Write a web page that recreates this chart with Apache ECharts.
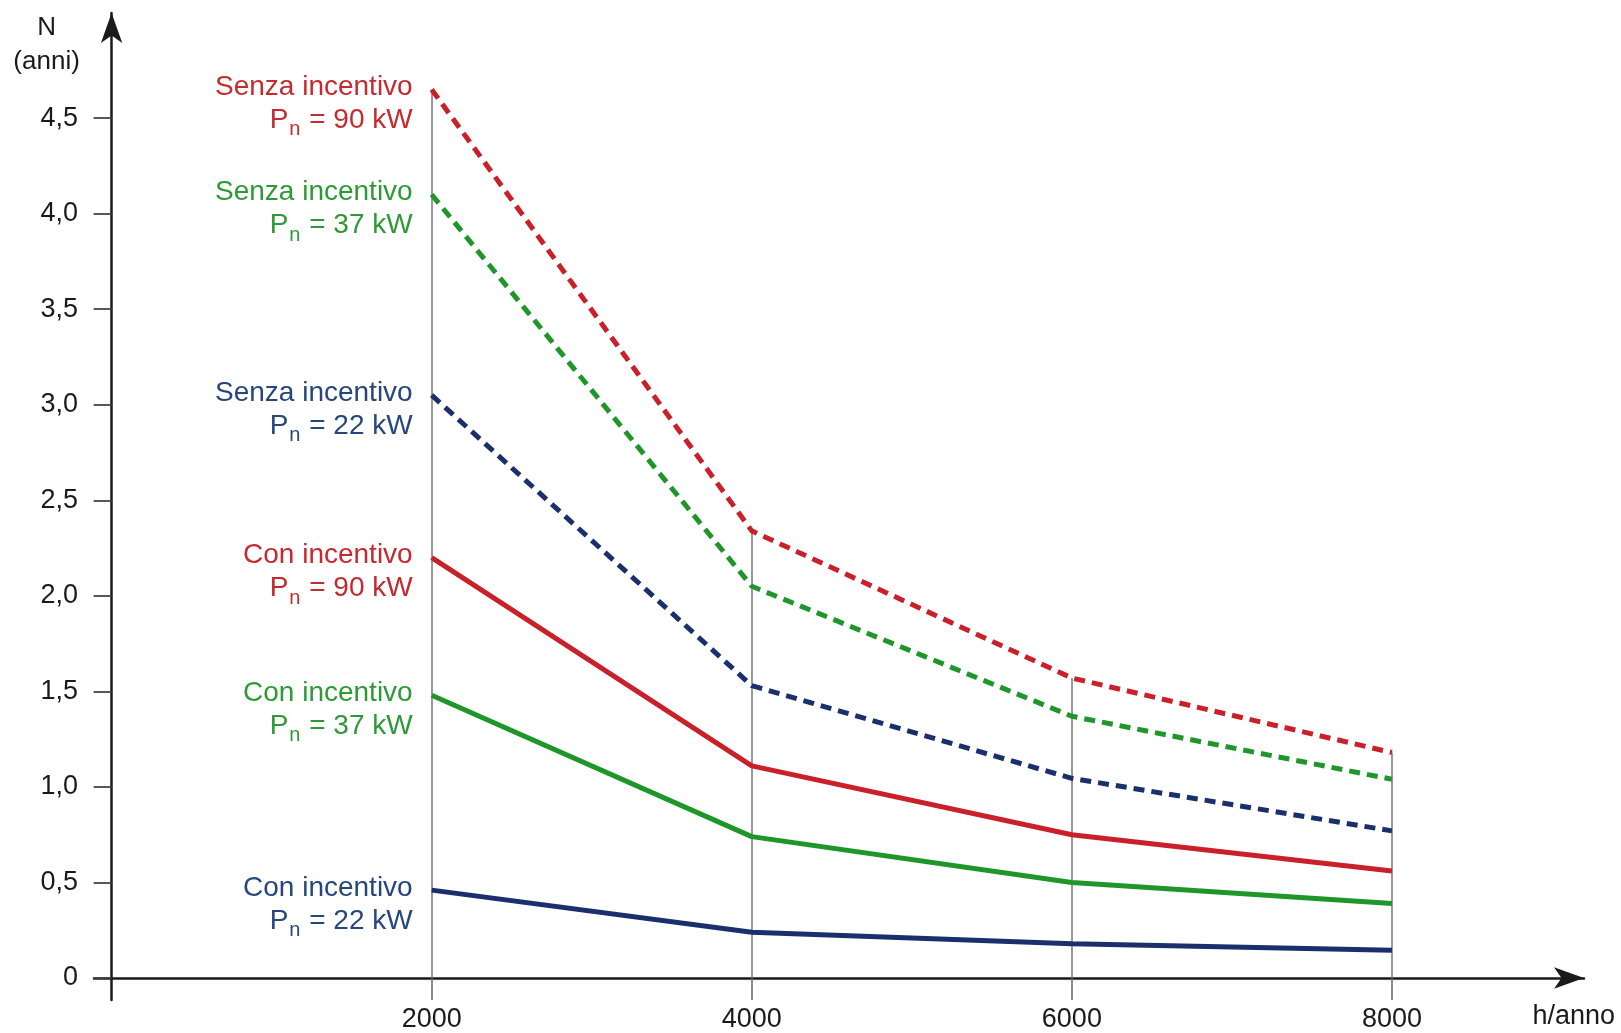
<!DOCTYPE html>
<html><head><meta charset="utf-8">
<script src="https://cdn.jsdelivr.net/npm/echarts@6/dist/echarts.min.js"></script>
<style>html,body{margin:0;padding:0;background:#fff}#c{width:1621px;height:1033px}</style>
</head><body><div id="c"></div>
<script>
// ---- data ----
const hours = [2000, 4000, 6000, 8000];
const senza90 = [4.65, 2.34, 1.57, 1.18];
const senza37 = [4.10, 2.05, 1.37, 1.04];
const senza22 = [3.05, 1.53, 1.045, 0.77];
const con90 = [2.20, 1.11, 0.75, 0.56];
const con37 = [1.48, 0.74, 0.50, 0.39];
const con22 = [0.46, 0.24, 0.18, 0.145];
const yTicks = [0, 0.5, 1, 1.5, 2, 2.5, 3, 3.5, 4, 4.5];
const xTicks = [2000, 4000, 6000, 8000];
const labelTitles = ['Senza incentivo', 'Senza incentivo', 'Senza incentivo', 'Con incentivo', 'Con incentivo', 'Con incentivo'];
const powers = ['90', '37', '22', '90', '37', '22'];

// ---- styles ----
const RED = '#c9202a', GREEN = '#1f962a', BLUE = '#1b2f6c';
const RED_T = '#c42a2e', GREEN_T = '#2e9a36', BLUE_T = '#26467c';
const FONT = 'Liberation Sans, Arial, sans-serif';

const allSeries = [senza90, senza37, senza22, con90, con37, con22];
const colors = [RED, GREEN, BLUE, RED, GREEN, BLUE];
const textColors = [RED_T, GREEN_T, BLUE_T, RED_T, GREEN_T, BLUE_T];
const dashed = [true, true, true, false, false, false];

const series = allSeries.map((arr, k) => ({
  type: 'line',
  name: labelTitles[k] + ' ' + powers[k],
  showSymbol: true,
  symbol: 'circle',
  symbolSize: 0,
  z: 5,
  itemStyle: {color: colors[k]},
  lineStyle: {color: colors[k], width: 5, type: dashed[k] ? [11, 7] : 'solid', cap: 'butt'},
  label: {show: false},
  data: hours.map((h, i) => i === 0 ? {
    value: [h, arr[i]],
    label: {
      show: true, position: 'left', distance: 19, offset: [0, 14.5], align: 'right',
      formatter: '{t|' + labelTitles[k] + '}\n{p|P}{s|n}{p| = ' + powers[k] + ' kW}',
      rich: {
        t: {fontSize: 28, lineHeight: 33, color: textColors[k], fontFamily: FONT},
        p: {fontSize: 28, lineHeight: 33, color: textColors[k], fontFamily: FONT},
        s: {fontSize: 20, lineHeight: 12, padding: [19, 1, 0, 1], color: textColors[k], fontFamily: FONT}
      }
    }
  } : {value: [h, arr[i]]})
}));

// drop lines from axis up to highest curve at each hour
series.push({
  type: 'line', data: [], silent: true, z: 2,
  markLine: {
    silent: true, symbol: 'none', label: {show: false},
    lineStyle: {color: '#777', width: 1.5, type: 'solid'},
    data: hours.map((h, i) => [{coord: [h, 0]}, {coord: [h, Math.max(...allSeries.map(a => a[i]))]}])
  }
});

const chart = echarts.init(document.getElementById('c'));
chart.setOption({
  backgroundColor: '#ffffff',
  animation: false,
  grid: {left: 94, right: 37, top: 13, bottom: 33, outerBoundsMode: 'none', containLabel: false},
  xAxis: {
    type: 'value', min: -110, max: 9200,
    name: 'h/anno', nameLocation: 'end', nameGap: 31,
    nameTextStyle: {fontSize: 27, color: '#1a1a1a', fontFamily: FONT, align: 'right', verticalAlign: 'top', padding: [25, 0, 0, 0]},
    axisLine: {onZero: true, lineStyle: {color: '#1a1a1a', width: 2.5}, symbol: ['none', 'arrow'], symbolSize: [16, 30]},
    axisTick: {show: true, inside: false, length: 22, customValues: xTicks, lineStyle: {color: '#666', width: 1.5}},
    axisLabel: {customValues: xTicks, fontSize: 27, color: '#1a1a1a', fontFamily: FONT, margin: 6, formatter: v => String(v)},
    splitLine: {show: false}
  },
  yAxis: {
    type: 'value', min: -0.115, max: 5.05,
    name: 'N\n(anni)', nameLocation: 'end', nameGap: 2,
    nameTextStyle: {fontSize: 26, lineHeight: 34, color: '#1a1a1a', fontFamily: FONT, align: 'center', verticalAlign: 'top', padding: [0, 130, 0, 0]},
    axisLine: {onZero: true, lineStyle: {color: '#1a1a1a', width: 2.5}, symbol: ['none', 'arrow'], symbolSize: [16, 30]},
    axisTick: {show: true, inside: false, length: 18, customValues: yTicks, lineStyle: {color: '#444', width: 1.8}},
    axisLabel: {
      customValues: yTicks, fontSize: 27, color: '#1a1a1a', fontFamily: FONT, margin: 16,
      formatter: v => v === 0 ? '0' : v.toFixed(1).replace('.', ',')
    },
    splitLine: {show: false}
  },
  series: series
});
</script>
</body></html>
